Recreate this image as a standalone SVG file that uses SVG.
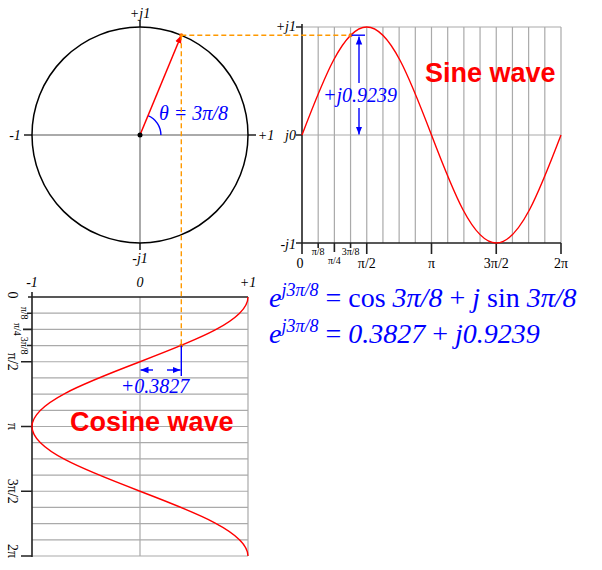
<svg xmlns="http://www.w3.org/2000/svg" width="602" height="570" viewBox="0 0 602 570">
<defs>
<style>
.t{font-family:"Liberation Serif","Times New Roman",serif;fill:#000}
.i{font-style:italic}
.b{fill:#0000ff}
.big{font-family:"Liberation Sans",Arial,sans-serif;font-weight:bold;font-size:27px;fill:#ff0000}
.grid{stroke:#aaaaaa;stroke-width:1.2;fill:none}
.ax{stroke:#222;stroke-width:1.6;fill:none}
.wave{stroke:#ff0000;stroke-width:1.4;fill:none}
.dash{stroke:#ff9900;stroke-width:1.4;stroke-dasharray:5,3;fill:none}
.dim{stroke:#0000ff;stroke-width:1.4;fill:none}
</style>
<marker id="ab" viewBox="0 0 10 10" refX="10" refY="5" markerWidth="8" markerHeight="8" markerUnits="userSpaceOnUse" orient="auto"><path d="M0,1 L10,5 L0,9 Z" fill="#0000ff"/></marker>
<marker id="ar" viewBox="0 0 10 10" refX="10" refY="5" markerWidth="8" markerHeight="8" markerUnits="userSpaceOnUse" orient="auto"><path d="M0,1 L10,5 L0,9 Z" fill="#ff0000"/></marker>
</defs>
<rect width="602" height="570" fill="#fff"/>

<g id="phasor-circle">
<line x1="32" y1="135" x2="248" y2="135" stroke="#aaa" stroke-width="2"/>
<line x1="140" y1="27" x2="140" y2="243" stroke="#aaa" stroke-width="2"/>
<path class="ax" d="M24,135H32M248,135H256M140,20V27M140,243V250"/>
<circle cx="140" cy="135" r="108" fill="none" stroke="#000" stroke-width="1.5"/>
<path d="M160.9,135 A21,21 0 0 0 148,115.6" stroke="#0000ff" stroke-width="1.4" fill="none"/>
<line x1="140" y1="135" x2="181.3" y2="35.2" stroke="#ff0000" stroke-width="1.5" marker-end="url(#ar)"/>
<circle cx="140" cy="135" r="2.5" fill="#000"/>
<circle cx="181.3" cy="35.2" r="2" fill="#ff6600"/>
<text class="t i" x="140" y="18" font-size="14" text-anchor="middle">+j1</text>
<text class="t i" x="140" y="263" font-size="14" text-anchor="middle">-j1</text>
<text class="t i" x="15" y="140" font-size="14" text-anchor="middle">-1</text>
<text class="t i" x="266" y="140" font-size="14" text-anchor="middle">+1</text>
<text class="t i b" x="159" y="120" font-size="20">θ = 3π/8</text>
</g>

<g id="sine-wave">
<path class="grid" d="M302,27H561M302,135H561M318.19,27V243M334.38,27V243M350.56,27V243M366.75,27V243M382.94,27V243M399.13,27V243M415.31,27V243M431.5,27V243M447.69,27V243M463.88,27V243M480.06,27V243M496.25,27V243M512.44,27V243M528.63,27V243M544.81,27V243M561,27V243"/>
<path class="ax" d="M302,24V244M301,243H561M296,27H302M296,135H302M296,243H302M302,243V254M318.19,243V248M334.38,243V252M350.56,243V248M366.75,243V254M431.5,243V254M496.25,243V254M561,243V254"/>
<path class="wave" d="M302,135 C323.12,79.67 343.32,27 366.75,27 C390.18,27 410.38,79.67 431.5,135 C452.62,190.33 472.82,243 496.25,243 C519.68,243 539.88,190.33 561,135"/>
<circle cx="350.6" cy="35.2" r="2" fill="#ff6600"/>
<text class="t i" x="296" y="31" font-size="14" text-anchor="end">+j1</text>
<text class="t i" x="296" y="140" font-size="14" text-anchor="end">j0</text>
<text class="t i" x="296" y="249" font-size="14" text-anchor="end">-j1</text>
<text class="t" x="300" y="268" font-size="14" text-anchor="middle">0</text>
<text class="t" x="318.2" y="255" font-size="10" text-anchor="middle">π/8</text>
<text class="t" x="334.4" y="263.5" font-size="10" text-anchor="middle">π/4</text>
<text class="t" x="350.6" y="255" font-size="10" text-anchor="middle">3π/8</text>
<text class="t" x="366.8" y="268" font-size="14" text-anchor="middle">π/2</text>
<text class="t" x="431.5" y="268" font-size="14" text-anchor="middle">π</text>
<text class="t" x="496.3" y="268" font-size="14" text-anchor="middle">3π/2</text>
<text class="t" x="561" y="268" font-size="14" text-anchor="middle">2π</text>
<text class="big" x="425" y="82">Sine wave</text>
</g>

<g id="cosine-wave">
<path class="grid" d="M140,297V556M248,297V556M32,313.19H248M32,329.38H248M32,345.56H248M32,361.75H248M32,377.94H248M32,394.13H248M32,410.31H248M32,426.5H248M32,442.69H248M32,458.88H248M32,475.06H248M32,491.25H248M32,507.44H248M32,523.63H248M32,539.81H248M32,556H248"/>
<path class="ax" d="M32,292V557M28,297H248M27,313.19H32M23,329.38H32M27,345.56H32M21,361.75H32M21,426.5H32M21,491.25H32M21,556H32"/>
<path class="wave" d="M248,297 C248,320.43 195.33,340.63 140,361.75 C84.67,382.87 32,403.07 32,426.5 C32,449.93 84.67,470.13 140,491.25 C195.33,512.37 248,532.57 248,556"/>
<circle cx="181.3" cy="345.6" r="2" fill="#ff6600"/>
<text class="t i" x="32" y="287" font-size="14" text-anchor="middle">-1</text>
<text class="t i" x="140" y="287" font-size="14" text-anchor="middle">0</text>
<text class="t i" x="248" y="287" font-size="14" text-anchor="middle">+1</text>
<text class="t" transform="translate(7.5,295) rotate(90)" font-size="14" text-anchor="middle">0</text>
<text class="t" transform="translate(20.5,313.2) rotate(90)" font-size="10" text-anchor="middle">π/8</text>
<text class="t" transform="translate(13.5,329.4) rotate(90)" font-size="10" text-anchor="middle">π/4</text>
<text class="t" transform="translate(20.5,345.6) rotate(90)" font-size="10" text-anchor="middle">3π/8</text>
<text class="t" transform="translate(7.5,361.8) rotate(90)" font-size="14" text-anchor="middle">π/2</text>
<text class="t" transform="translate(7.5,426.5) rotate(90)" font-size="14" text-anchor="middle">π</text>
<text class="t" transform="translate(7.5,491.3) rotate(90)" font-size="14" text-anchor="middle">3π/2</text>
<text class="t" transform="translate(7.5,551) rotate(90)" font-size="14" text-anchor="middle">2π</text>
<text class="big" x="70" y="431">Cosine wave</text>
</g>

<g id="connectors">
<path class="dash" d="M181.3,35.2H350.6"/>
<path class="dash" d="M181.3,35.2V345.6"/>
<path class="dim" d="M351.5,35.2H365"/>
<line class="dim" x1="359" y1="83" x2="359" y2="36.5" marker-end="url(#ab)"/>
<line class="dim" x1="359" y1="108" x2="359" y2="134.5" marker-end="url(#ab)"/>
<text class="t i b" x="360" y="102" font-size="20" text-anchor="middle">+j0.9239</text>
<path class="dim" d="M181.3,345.6V376"/>
<line class="dim" x1="153" y1="370" x2="140.5" y2="370" marker-end="url(#ab)"/>
<line class="dim" x1="167" y1="370" x2="180.5" y2="370" marker-end="url(#ab)"/>
<text class="t i b" x="155" y="393" font-size="20" text-anchor="middle">+0.3827</text>
</g>

<g id="equations">
<text class="t b" x="269" y="307" font-size="28"><tspan font-style="italic">e</tspan><tspan font-style="italic" font-size="18" dy="-11">j3π/8</tspan><tspan dy="11"> = cos </tspan><tspan font-style="italic">3π/8</tspan><tspan> + </tspan><tspan font-style="italic">j</tspan><tspan> sin </tspan><tspan font-style="italic">3π/8</tspan></text>
<text class="t b" x="269" y="343" font-size="28"><tspan font-style="italic">e</tspan><tspan font-style="italic" font-size="18" dy="-11">j3π/8</tspan><tspan dy="11"> = </tspan><tspan font-style="italic">0.3827</tspan><tspan> + </tspan><tspan font-style="italic">j0.9239</tspan></text>
</g>
</svg>
